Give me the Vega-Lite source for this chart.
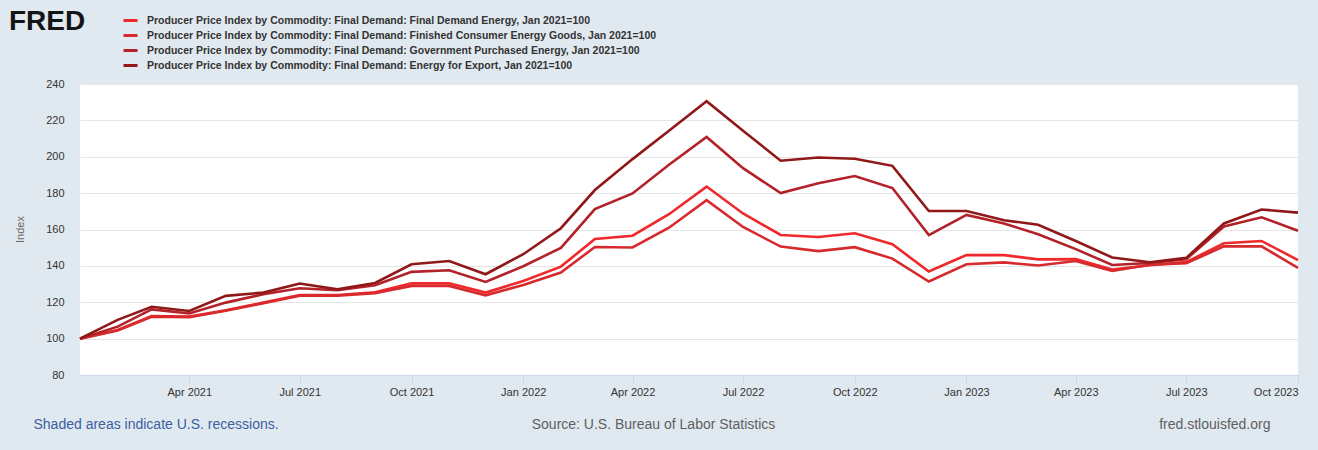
{
  "$schema": "https://vega.github.io/schema/vega-lite/v6.json",
  "width": 1218,
  "height": 291,
  "autosize": {"type": "none"},
  "padding": {"left": 80, "top": 84, "right": 20, "bottom": 75},
  "background": "#e1e9f0",
  "config": {
    "view": {"fill": "#ffffff", "stroke": null},
    "font": "Liberation Sans"
  },
  "title": {
    "text": "FRED",
    "anchor": "start",
    "frame": "group",
    "dx": -71,
    "offset": -24,
    "fontSize": 28,
    "fontWeight": "bold",
    "font": "Liberation Sans",
    "color": "#141414"
  },
  "data": {
    "values": [
      {"date": "2021-01-01", "s1": 100, "s2": 100, "s3": 100, "s4": 100},
      {"date": "2021-02-01", "s1": 104.8, "s2": 104.5, "s3": 106.6, "s4": 110.3},
      {"date": "2021-03-01", "s1": 112.4, "s2": 112.0, "s3": 116.1, "s4": 117.5},
      {"date": "2021-04-01", "s1": 112.1, "s2": 111.8, "s3": 113.8, "s4": 115.2},
      {"date": "2021-05-01", "s1": 115.6, "s2": 115.3, "s3": 119.8, "s4": 123.5},
      {"date": "2021-06-01", "s1": 119.8, "s2": 119.5, "s3": 124.4, "s4": 125.3},
      {"date": "2021-07-01", "s1": 124.0, "s2": 123.6, "s3": 127.7, "s4": 130.3},
      {"date": "2021-08-01", "s1": 124.0, "s2": 123.6, "s3": 126.6, "s4": 127.1},
      {"date": "2021-09-01", "s1": 125.5, "s2": 125.0, "s3": 129.3, "s4": 130.6},
      {"date": "2021-10-01", "s1": 130.4, "s2": 129.0, "s3": 136.7, "s4": 140.9},
      {"date": "2021-11-01", "s1": 130.4, "s2": 129.0, "s3": 137.6, "s4": 142.7},
      {"date": "2021-12-01", "s1": 125.3, "s2": 123.8, "s3": 131.2, "s4": 135.4},
      {"date": "2022-01-01", "s1": 131.7, "s2": 129.5, "s3": 139.8, "s4": 146.4},
      {"date": "2022-02-01", "s1": 139.6, "s2": 136.3, "s3": 149.9, "s4": 160.7},
      {"date": "2022-03-01", "s1": 154.8, "s2": 150.4, "s3": 171.2, "s4": 181.7},
      {"date": "2022-04-01", "s1": 156.6, "s2": 150.1, "s3": 179.8, "s4": 198.7},
      {"date": "2022-05-01", "s1": 168.4, "s2": 161.0, "s3": 195.6, "s4": 214.3},
      {"date": "2022-06-01", "s1": 183.6, "s2": 176.1, "s3": 210.9, "s4": 230.5},
      {"date": "2022-07-01", "s1": 168.8, "s2": 161.4, "s3": 193.7, "s4": 214.3},
      {"date": "2022-08-01", "s1": 157.0, "s2": 150.6, "s3": 180.0, "s4": 197.8},
      {"date": "2022-09-01", "s1": 155.9, "s2": 148.1, "s3": 185.4, "s4": 199.6},
      {"date": "2022-10-01", "s1": 157.9, "s2": 150.3, "s3": 189.4, "s4": 198.9},
      {"date": "2022-11-01", "s1": 151.9, "s2": 144.0, "s3": 182.8, "s4": 195.0},
      {"date": "2022-12-01", "s1": 136.9, "s2": 131.4, "s3": 156.9, "s4": 170.2},
      {"date": "2023-01-01", "s1": 146.0, "s2": 140.9, "s3": 168.0, "s4": 170.2},
      {"date": "2023-02-01", "s1": 145.9, "s2": 141.9, "s3": 163.3, "s4": 165.1},
      {"date": "2023-03-01", "s1": 143.6, "s2": 140.2, "s3": 157.4, "s4": 162.6},
      {"date": "2023-04-01", "s1": 143.7, "s2": 142.7, "s3": 149.2, "s4": 153.7},
      {"date": "2023-05-01", "s1": 138.0, "s2": 137.2, "s3": 140.5, "s4": 144.6},
      {"date": "2023-06-01", "s1": 140.3, "s2": 140.6, "s3": 141.6, "s4": 142.0},
      {"date": "2023-07-01", "s1": 142.1, "s2": 141.5, "s3": 143.7, "s4": 144.4},
      {"date": "2023-08-01", "s1": 152.4, "s2": 150.7, "s3": 161.7, "s4": 163.3},
      {"date": "2023-09-01", "s1": 153.7, "s2": 150.7, "s3": 166.7, "s4": 171.0},
      {"date": "2023-10-01", "s1": 143.2, "s2": 138.9, "s3": 159.3, "s4": 169.3}
    ]
  },
  "transform": [
    {"fold": ["s1", "s2", "s3", "s4"], "as": ["series", "value"]}
  ],
  "resolve": {"axis": {"x": "independent", "y": "independent"}},
  "layer": [
    {
      "mark": {"type": "line", "strokeWidth": 2.6, "strokeJoin": "miter", "strokeCap": "butt"},
      "encoding": {
        "x": {
          "field": "date",
          "type": "temporal",
          "scale": {"type": "utc", "domain": ["2021-01-01", "2023-10-01"]},
          "axis": {
            "orient": "bottom",
            "title": "Source: U.S. Bureau of Labor Statistics",
            "titleX": 573,
            "titleY": 49,
            "titleAlign": "center",
            "titleBaseline": "middle",
            "titleFontSize": 14,
            "titleFontWeight": "normal",
            "titleColor": "#5f5f5f",
            "titleFont": "Liberation Sans",
            "values": [
              {"year": 2021, "month": 4, "date": 1, "utc": true},
              {"year": 2021, "month": 7, "date": 1, "utc": true},
              {"year": 2021, "month": 10, "date": 1, "utc": true},
              {"year": 2022, "month": 1, "date": 1, "utc": true},
              {"year": 2022, "month": 4, "date": 1, "utc": true},
              {"year": 2022, "month": 7, "date": 1, "utc": true},
              {"year": 2022, "month": 10, "date": 1, "utc": true},
              {"year": 2023, "month": 1, "date": 1, "utc": true},
              {"year": 2023, "month": 4, "date": 1, "utc": true},
              {"year": 2023, "month": 7, "date": 1, "utc": true},
              {"year": 2023, "month": 10, "date": 1, "utc": true}
            ],
            "labelExpr": "utcFormat(datum.value, '%b %Y')",
            "labelAlign": {
              "condition": {"test": "utcyear(datum.value) == 2023 && utcmonth(datum.value) == 9", "value": "right"},
              "value": "center"
            },
            "grid": false,
            "domainColor": "#ccd6eb",
            "tickColor": "#ccd6eb",
            "tickSize": 8,
            "labelPadding": 3,
            "labelFontSize": 11,
            "labelColor": "#333333",
            "labelFont": "Liberation Sans",
            "labelOverlap": false,
            "labelFlush": false
          }
        },
        "y": {
          "field": "value",
          "type": "quantitative",
          "scale": {"domain": [80, 240], "nice": false, "zero": false},
          "axis": {
            "orient": "left",
            "title": "Index",
            "titleX": -55,
            "titleY": 145,
            "titleAlign": "center",
            "titleFontSize": 11,
            "titleFontWeight": "normal",
            "titleColor": "#666666",
            "titleFont": "Liberation Sans",
            "values": [80, 100, 120, 140, 160, 180, 200, 220, 240],
            "grid": true,
            "gridColor": "#e6e6e6",
            "gridWidth": 1,
            "ticks": false,
            "domain": false,
            "labelPadding": 16,
            "labelFontSize": 11,
            "labelColor": "#333333",
            "labelFont": "Liberation Sans"
          }
        },
        "color": {
          "field": "series",
          "type": "nominal",
          "scale": {
            "domain": ["s1", "s2", "s3", "s4"],
            "range": ["#f0282b", "#d62a2e", "#b22228", "#901818"]
          },
          "legend": {
            "orient": "none",
            "legendX": 42,
            "legendY": -72,
            "title": null,
            "padding": 0,
            "symbolType": "stroke",
            "symbolSize": 196,
            "symbolStrokeWidth": 3,
            "rowPadding": -1,
            "labelOffset": 8,
            "labelFontSize": 10.5,
            "labelFontWeight": "bold",
            "labelFont": "Liberation Sans",
            "labelColor": "#333333",
            "labelLimit": 800,
            "labelExpr": "datum.label == 's1' ? 'Producer Price Index by Commodity: Final Demand: Final Demand Energy, Jan 2021=100' : datum.label == 's2' ? 'Producer Price Index by Commodity: Final Demand: Finished Consumer Energy Goods, Jan 2021=100' : datum.label == 's3' ? 'Producer Price Index by Commodity: Final Demand: Government Purchased Energy, Jan 2021=100' : 'Producer Price Index by Commodity: Final Demand: Energy for Export, Jan 2021=100'"
          }
        },
        "order": {"field": "series", "sort": "descending"}
      }
    },
    {
      "mark": {"type": "line", "opacity": 0},
      "encoding": {
        "x": {
          "field": "date",
          "type": "temporal",
          "axis": {
            "orient": "top",
            "labels": false,
            "ticks": false,
            "domain": false,
            "grid": false,
            "title": "Shaded areas indicate U.S. recessions.",
            "titleX": -47,
            "titleY": 340,
            "titleAlign": "left",
            "titleBaseline": "middle",
            "titleFontSize": 14,
            "titleFontWeight": "normal",
            "titleColor": "#3a5f9f",
            "titleFont": "Liberation Sans"
          }
        },
        "y": {
          "field": "value",
          "type": "quantitative",
          "axis": {
            "orient": "right",
            "labels": false,
            "ticks": false,
            "domain": false,
            "grid": false,
            "title": "fred.stlouisfed.org",
            "titleAngle": 0,
            "titleX": -28,
            "titleY": 340,
            "titleAlign": "right",
            "titleBaseline": "middle",
            "titleFontSize": 14,
            "titleFontWeight": "normal",
            "titleColor": "#5f5f5f",
            "titleFont": "Liberation Sans"
          }
        },
        "detail": {"field": "series"}
      }
    }
  ]
}
